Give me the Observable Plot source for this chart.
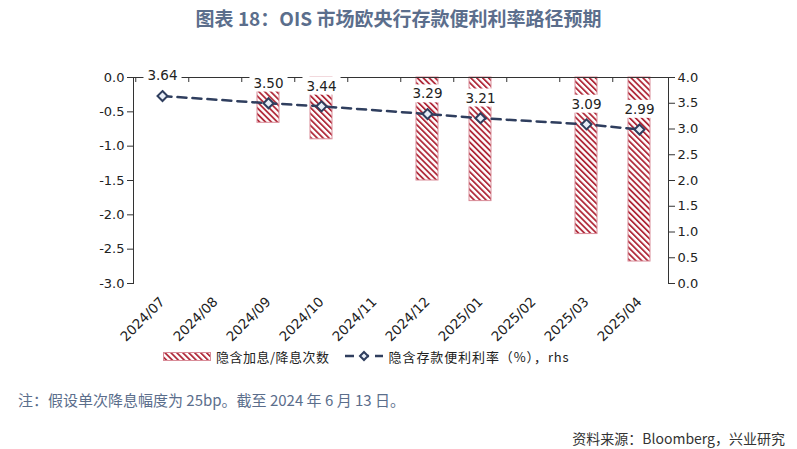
<!DOCTYPE html>
<html><head><meta charset="utf-8">
<script src="https://cdn.jsdelivr.net/npm/d3@7"></script>
<script src="https://cdn.jsdelivr.net/npm/@observablehq/plot@0.6"></script>
<style>
body{margin:0;background:#fff;width:797px;height:449px;overflow:hidden;font-family:"Noto Sans CJK SC","Noto Sans",sans-serif}
#title{height:36px;line-height:36px;text-align:center;font-size:19px;font-weight:bold;color:#5b6e8c}
#chart{height:308px}
#legend{height:24px;display:flex;align-items:center;padding-left:163px;font-size:13px;color:#222}
#legend .item{display:flex;align-items:center}
#legend svg{display:block}
#note{margin-top:20px;height:24px;line-height:24px;padding-left:18px;font-size:15px;color:#5b6e8c}
#source{margin-top:14px;height:24px;line-height:24px;text-align:right;padding-right:12px;font-size:14px;color:#333}
</style></head>
<body>
<div id="title">图表 18：OIS 市场欧央行存款便利利率路径预期</div>
<div id="chart"></div>
<div id="legend">
  <div class="item">
    <svg width="48" height="9"><defs><pattern id="hatchL" patternUnits="userSpaceOnUse" width="4.2" height="4.2" patternTransform="rotate(-45)"><rect width="4.2" height="4.2" fill="#fff"/><rect width="1.8" height="4.2" fill="#b02a3a"/></pattern></defs><rect x="0.5" y="0.5" width="47" height="8" fill="url(#hatchL)" stroke="#d98c98"/></svg>
    <span style="margin-left:5px;letter-spacing:0.5px">隐含加息/降息次数</span>
  </div>
  <div class="item" style="margin-left:15px">
    <svg width="38" height="12"><line x1="0" y1="6" x2="38" y2="6" stroke="#2f3e5e" stroke-width="2.5" stroke-dasharray="9,6"/><path d="M19,2 L23,6 L19,10 L15,6 Z" fill="#e8eef7" stroke="#2f3e5e" stroke-width="2"/></svg>
    <span style="margin-left:6px;letter-spacing:0.9px">隐含存款便利利率（%），rhs</span>
  </div>
</div>
<div id="note">注：假设单次降息幅度为 25bp。截至 2024 年 6 月 13 日。</div>
<div id="source">资料来源：Bloomberg，兴业研究</div>
<script>
// ---- data ----
const months = ["2024/07","2024/08","2024/09","2024/10","2024/11","2024/12","2025/01","2025/02","2025/03","2025/04"];
const meetingMonths = ["2024/07","2024/09","2024/10","2024/12","2025/01","2025/03","2025/04"];
const impliedMoves = [0, -0.66, -0.90, -1.50, -1.80, -2.28, -2.68];
const impliedRate = [3.64, 3.50, 3.44, 3.29, 3.21, 3.09, 2.99];
const leftTicks = [0, -0.5, -1, -1.5, -2, -2.5, -3];
const rightTicks = [0, 0.5, 1, 1.5, 2, 2.5, 3, 3.5, 4];

// right axis [0,4] mapped onto left axis [-3,0]
const toLeft = v => v * 0.75 - 3;
const fromLeft = v => (v + 3) / 0.75;

const rows = meetingMonths.map((m, i) => ({month: m, move: impliedMoves[i], rate: impliedRate[i], rateL: toLeft(impliedRate[i])}));
const barRows = rows.filter(d => d.move !== 0);

const width = 797, mL = 133, mR = 129;
const step = (width - mL - mR) / months.length;

const plot = Plot.plot({
  width, height: 308,
  marginTop: 41, marginLeft: mL, marginRight: mR, marginBottom: 61,
  style: {fontFamily: "'DejaVu Sans', sans-serif", fontSize: "12.5px", color: "#333", background: "white"},
  x: {domain: months, paddingInner: 0.59, paddingOuter: 0.295},
  y: {domain: [-3, 0]},
  marks: [
    Plot.barY(barRows, {x: "month", y1: 0, y2: "move", fill: "white", stroke: "#d98c98", strokeWidth: 1}),
    Plot.ruleY([0], {stroke: "#333"}),
    Plot.axisX({anchor: "top", tickSize: 4, tickFormat: null, dx: -step / 2, dy: 4, label: null, stroke: "#333"}),
    Plot.axisX({anchor: "bottom", tickSize: 0, tickPadding: 16, tickRotate: -45, label: null, fill: "#222", fontSize: 13.5}),
    Plot.axisY({anchor: "left", ticks: leftTicks, tickFormat: d => d.toFixed(1), tickSize: 6, label: null, fill: "#222", fontSize: 13}),
    Plot.axisY({anchor: "right", ticks: rightTicks.map(toLeft), tickFormat: d => fromLeft(d).toFixed(1), tickSize: 6, label: null, fill: "#222", fontSize: 13}),
    Plot.frame({anchor: "left", stroke: "#333"}),
    Plot.frame({anchor: "right", stroke: "#333"}),
    Plot.line(rows, {x: "month", y: "rateL", stroke: "#2f3e5e", strokeWidth: 2.5, strokeDasharray: "9,6"}),
    Plot.dot(rows, {x: "month", y: "rateL", symbol: "diamond2", r: 4.5, stroke: "#2f3e5e", strokeWidth: 2, fill: "#e8eef7"}),
    Plot.text(rows, {x: "month", y: "rateL", text: d => d.rate.toFixed(2), dy: -20, fill: "#222", fontSize: 13.5})
  ]
});
document.getElementById("chart").appendChild(plot);

// hatch pattern for bars
const svg = d3.select(plot);
const pat = svg.insert("defs", ":first-child").append("pattern")
  .attr("id", "hatch").attr("patternUnits", "userSpaceOnUse")
  .attr("width", 4.2).attr("height", 4.2).attr("patternTransform", "rotate(-45)");
pat.append("rect").attr("width", 4.2).attr("height", 4.2).attr("fill", "#fff");
pat.append("rect").attr("width", 1.8).attr("height", 4.2).attr("fill", "#b02a3a");
svg.selectAll('g[aria-label="bar"]').attr("fill", "url(#hatch)").selectAll("rect").style("fill", "url(#hatch)");

// white boxes behind value labels
svg.selectAll('g[aria-label="text"] text').each(function() {
  const b = this.getBBox();
  const r = document.createElementNS("http://www.w3.org/2000/svg", "rect");
  r.setAttribute("x", b.x - 4);
  r.setAttribute("y", b.y - 1);
  r.setAttribute("width", b.width + 8);
  r.setAttribute("height", b.height + 2);
  r.setAttribute("fill", "white");
  r.setAttribute("stroke", "none");
  const t = this.getAttribute("transform");
  if (t) r.setAttribute("transform", t);
  this.parentNode.insertBefore(r, this);
});
</script>
</body></html>
